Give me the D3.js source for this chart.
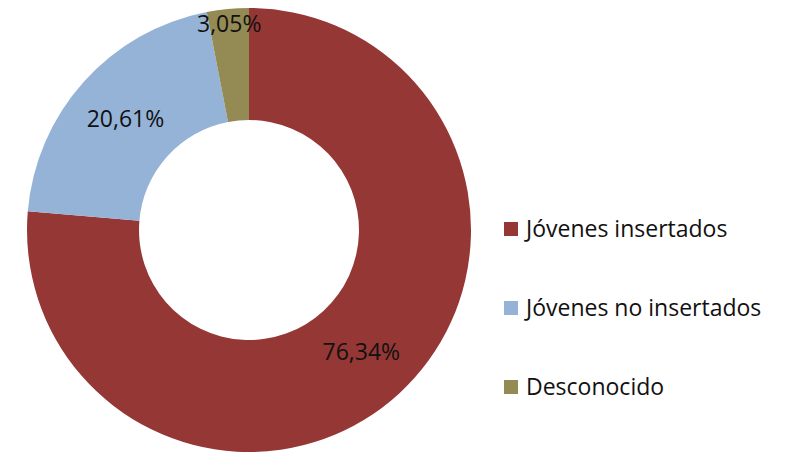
<html>
<head>
<style>
  body { margin: 0; background: #fff; }
  text { font-family: "Open Sans", "Noto Sans", sans-serif; }
</style>
</head>
<body>
<svg id="container" width="786" height="453"></svg>
<script src="https://cdn.jsdelivr.net/npm/d3@7"></script>
<script>
  // chart data
  const categories = ["Jóvenes insertados", "Jóvenes no insertados", "Desconocido"]
  const values = [76.34, 20.61, 3.05]
  const labels = ["76,34%", "20,61%", "3,05%"]
  const colors = ["#953735", "#95B3D7", "#948A54"]

  let svg = d3.select("#container")
  let cx = 249, cy = 230
  let outerR = 222, innerR = 110

  let data = categories.map((c, i) => ({ category: c, value: values[i], label: labels[i] }))

  let colorScale = d3.scaleOrdinal()
    .domain(categories)
    .range(colors)

  let pie = d3.pie()
    .value(d => d.value)
    .sort(null)

  let arc = d3.arc()
    .outerRadius(outerR)
    .innerRadius(innerR)

  // small slices get their label pushed out near the rim
  let labelArc = d3.arc().outerRadius(outerR).innerRadius(innerR)
  let rimArc = d3.arc().outerRadius(outerR * 2 - 30).innerRadius(0)

  let body = svg.append("g").attr("transform", `translate(${cx},${cy})`)

  let g = body.selectAll(".arc")
    .data(pie(data))
    .enter()
    .append("g")
    .attr("class", "arc")

  g.append("path")
    .attr("d", arc)
    .attr("fill", d => colorScale(d.data.category))

  g.append("text")
    .attr("transform", d => {
      let c = d.data.value < 5 ? rimArc.centroid(d) : labelArc.centroid(d)
      return `translate(${c})`
    })
    .attr("text-anchor", "middle")
    .attr("dy", "0.35em")
    .attr("font-size", 23)
    .attr("fill", "#111")
    .text(d => d.data.label)

  // legend
  let legendY = d3.scalePoint()
    .domain(categories)
    .range([229, 387])

  let legend = svg.append("g")
    .selectAll(".item")
    .data(categories)
    .enter()
    .append("g")
    .attr("transform", d => `translate(504,${legendY(d)})`)

  legend.append("rect")
    .attr("x", 0)
    .attr("y", -7)
    .attr("width", 14)
    .attr("height", 14)
    .attr("fill", d => colorScale(d))

  legend.append("text")
    .attr("x", 22)
    .attr("dy", "0.35em")
    .attr("font-size", 23)
    .attr("fill", "#111")
    .text(d => d)
</script>
</body>
</html>
